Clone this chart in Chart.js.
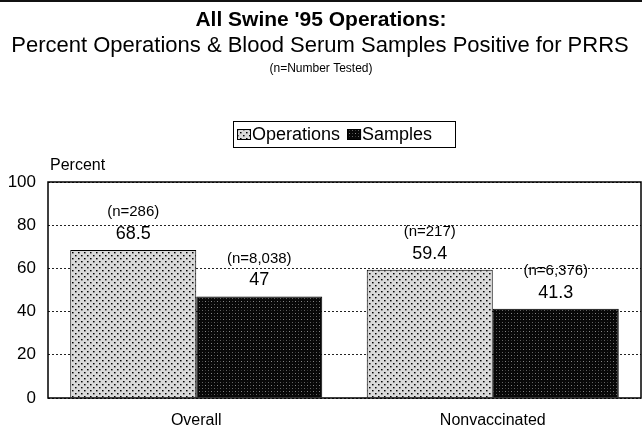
<!DOCTYPE html>
<html>
<head>
<meta charset="utf-8">
<script src="https://cdn.jsdelivr.net/npm/chart.js@4/dist/chart.umd.min.js"></script>
<style>
  html, body { margin: 0; padding: 0; background: #fff; }
  #wrap { width: 642px; height: 429px; position: relative; }
</style>
</head>
<body>
<div id="wrap"><canvas id="c" width="642" height="429"></canvas></div>
<script>
// ---- data ----
const categories = ["Overall", "Nonvaccinated"];
const seriesNames = ["Operations", "Samples"];
const operations = [68.5, 59.4];
const samples = [47, 41.3];
const operationsN = ["(n=286)", "(n=217)"];
const samplesN = ["(n=8,038)", "(n=6,376)"];
const yTicks = [0, 20, 40, 60, 80, 100];
const titleLines = ["All Swine '95 Operations:", "Percent Operations & Blood Serum Samples Positive for PRRS", "(n=Number Tested)"];
const yAxisLabel = "Percent";

const FONT = "'Liberation Sans', Arial, sans-serif";

function makePattern(bg, dots) {
  const t = document.createElement('canvas');
  t.width = 6; t.height = 6;
  const g = t.getContext('2d');
  g.fillStyle = bg; g.fillRect(0, 0, 6, 6);
  dots.forEach(d => { g.fillStyle = d[2]; g.fillRect(d[0], d[1], 1, 1); });
  return g.createPattern(t, 'repeat');
}
const opsFill = makePattern('#dadada', [[0,0,'#000'],[3,3,'#000'],[1,0,'#666'],[4,3,'#666'],[0,1,'#888'],[3,4,'#888'],[1,1,'#aaa'],[4,4,'#aaa']]);
const smpFill = makePattern('#080808', [[1,1,'#888'],[4,4,'#666'],[1,4,'#333'],[4,1,'#444']]);

const overlay = {
  id: 'overlay',
  beforeDraw(chart) {
    const c = chart.ctx;
    c.save();
    c.fillStyle = '#fff';
    c.fillRect(0, 0, chart.width, chart.height);
    c.fillStyle = '#111';
    c.fillRect(0, 0, 642, 2);
    c.restore();
  },
  afterDatasetsDraw(chart) {
    const c = chart.ctx;
    c.save();
    c.textAlign = 'center';
    c.textBaseline = 'middle';
    c.fillStyle = '#000';
    // titles
    c.font = "bold 21px " + FONT;
    c.fillText(titleLines[0], 321, 20);
    c.font = "22px " + FONT;
    c.fillText(titleLines[1], 320, 46);
    c.font = "12px " + FONT;
    c.fillText(titleLines[2], 321, 69);
    // y axis label
    c.textAlign = 'left';
    c.font = "16px " + FONT;
    c.fillText(yAxisLabel, 50, 166);
    // legend
    const lx = 233, ly = 121, lw = 222, lh = 26;
    c.strokeStyle = '#000'; c.lineWidth = 1;
    c.strokeRect(lx + 0.5, ly + 0.5, lw, lh);
    c.font = "18px " + FONT;
    let x = lx + 4;
    chart.data.datasets.forEach((ds) => {
      c.fillStyle = ds.backgroundColor;
      c.fillRect(x, ly + 8, 14, 11);
      c.strokeStyle = '#000';
      c.strokeRect(x + 0.5, ly + 8.5, 13, 10);
      c.fillStyle = '#000';
      c.textAlign = 'left';
      c.fillText(ds.label, x + 15, ly + 14);
      x += 15 + c.measureText(ds.label).width + 7;
    });
    // value labels
    c.textAlign = 'center';
    const nLabels = [operationsN, samplesN];
    chart.data.datasets.forEach((ds, di) => {
      const meta = chart.getDatasetMeta(di);
      meta.data.forEach((bar, i) => {
        c.fillStyle = '#000';
        c.font = "15px " + FONT;
        c.fillText(nLabels[di][i], bar.x, bar.y - 38);
        c.font = "18px " + FONT;
        c.fillText(String(ds.data[i]), bar.x, bar.y - 16);
      });
    });
    // plot frame
    const a = chart.chartArea;
    c.strokeStyle = '#000';
    c.lineWidth = 1.5;
    c.strokeRect(a.left, a.top, a.right - a.left, a.bottom - a.top);
    c.restore();
  }
};

new Chart(document.getElementById('c'), {
  type: 'bar',
  data: {
    labels: categories,
    datasets: [
      { label: seriesNames[0], data: operations, backgroundColor: opsFill, borderColor: '#000', borderWidth: 1 },
      { label: seriesNames[1], data: samples, backgroundColor: smpFill, borderColor: '#000', borderWidth: 1 }
    ]
  },
  plugins: [overlay],
  options: {
    responsive: false,
    animation: false,
    devicePixelRatio: 1,
    layout: { padding: { top: 182, right: 1, left: 0, bottom: 0 } },
    plugins: {
      legend: { display: false },
      title: { display: false },
      tooltip: { enabled: false }
    },
    datasets: { bar: { categoryPercentage: 0.85, barPercentage: 1.0 } },
    scales: {
      x: {
        grid: { display: false },
        border: { display: false },
        ticks: { color: '#000', font: { family: FONT, size: 16 }, padding: 5 },
        afterFit(s) { s.height = 31; }
      },
      y: {
        min: 0, max: 100,
        afterBuildTicks(s) { s.ticks = yTicks.map(v => ({ value: v })); },
        grid: { color: '#222', lineWidth: 1, drawTicks: false },
        border: { display: false, dash: [2, 2] },
        ticks: { color: '#000', font: { family: FONT, size: 17 }, padding: 12 },
        afterFit(s) { s.width = 48; }
      }
    }
  }
});
</script>
</body>
</html>
